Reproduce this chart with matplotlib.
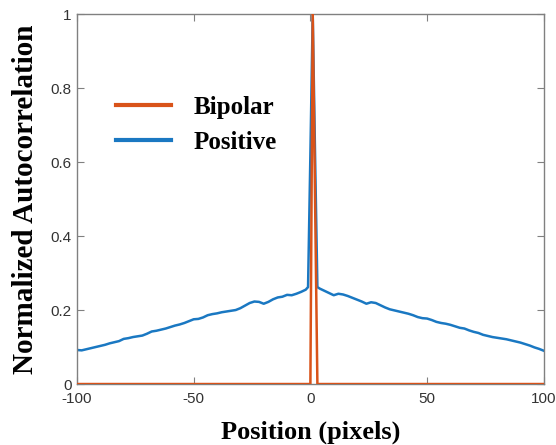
import numpy as np
import matplotlib
matplotlib.use('Agg')
import matplotlib.pyplot as plt

# Bipolar: spike at the centre, zero elsewhere
bipolar_x = [-100, 0, 1, 3, 100]
bipolar_y = [0, 0, 1.0, 0, 0]

# Positive: triangular background + spike
positive_x = [-100, -98, -96, -94, -92, -90, -88, -86, -84, -82, -80, -78, -76, -74, -72,
              -70, -68, -66, -64, -62, -60, -58, -56, -54, -52, -50, -48, -46, -44, -42,
              -40, -38, -36, -34, -32, -30, -28, -26, -24, -22, -20, -18, -16, -14, -12,
              -10, -8, -6, -4, -2, -1, 0, 1, 2, 3, 4, 6, 8, 10, 12, 14, 16, 18, 20, 22,
              24, 26, 28, 30, 32, 34, 36, 38, 40, 42, 44, 46, 48, 50, 52, 54, 56, 58, 60,
              62, 64, 66, 68, 70, 72, 74, 76, 78, 80, 82, 84, 86, 88, 90, 92, 94, 96, 98, 100]
positive_y = [0.092, 0.091, 0.094, 0.097, 0.100, 0.103, 0.106, 0.110, 0.113, 0.116, 0.122,
              0.124, 0.127, 0.129, 0.131, 0.136, 0.142, 0.144, 0.147, 0.150, 0.154, 0.158,
              0.161, 0.165, 0.170, 0.175, 0.176, 0.180, 0.186, 0.189, 0.191, 0.194, 0.196,
              0.198, 0.200, 0.205, 0.212, 0.219, 0.223, 0.222, 0.217, 0.222, 0.229, 0.234,
              0.236, 0.241, 0.240, 0.244, 0.249, 0.255, 0.262, 0.62, 1.0, 0.62, 0.262,
              0.258, 0.252, 0.246, 0.240, 0.244, 0.242, 0.238, 0.233, 0.228, 0.223, 0.217,
              0.221, 0.219, 0.213, 0.207, 0.202, 0.199, 0.196, 0.193, 0.190, 0.186, 0.181,
              0.178, 0.177, 0.173, 0.168, 0.165, 0.163, 0.160, 0.156, 0.152, 0.150, 0.145,
              0.141, 0.138, 0.133, 0.130, 0.127, 0.125, 0.123, 0.121, 0.118, 0.115, 0.112,
              0.108, 0.104, 0.099, 0.095, 0.090]

xticks = [-100, -50, 0, 50, 100]
yticks = [0, 0.2, 0.4, 0.6, 0.8, 1]
yticklabels = ['0', '0.2', '0.4', '0.6', '0.8', '1']

plt.rcParams['font.family'] = ['Liberation Sans', 'DejaVu Sans']

fig = plt.figure(figsize=(5.56, 4.45), dpi=100)
ax = fig.add_axes([0.1385, 0.137, 0.8395, 0.8315])

blue = '#1a78c2'
orange = '#d95319'
l2, = ax.plot(positive_x, positive_y, color=blue, lw=1.8, label='Positive', zorder=2)
l1, = ax.plot(bipolar_x, bipolar_y, color=orange, lw=1.8, label='Bipolar', zorder=3)

ax.set_xlim(-100, 100)
ax.set_ylim(0, 1)
ax.set_xticks(xticks)
ax.set_xticklabels([str(t) for t in xticks])
ax.set_yticks(yticks)
ax.set_yticklabels(yticklabels)
ax.tick_params(direction='in', length=5, width=0.8, colors='#808080', labelcolor='#333333',
               labelsize=11, top=True, right=True)
ax.tick_params(axis='x', pad=6)
ax.tick_params(axis='y', pad=4)
for s in ax.spines.values():
    s.set_color('#808080')
    s.set_linewidth(1.0)

serif = ['Liberation Serif', 'DejaVu Serif']
ax.set_xlabel('Position (pixels)', family=serif, fontweight='bold', fontsize=19, labelpad=10)
ax.set_ylabel('Normalized Autocorrelation', family=serif, fontweight='bold', fontsize=21,
              labelpad=8)

leg = ax.legend(handles=[l1, l2], loc='upper left', bbox_to_anchor=(0.035, 0.84),
                frameon=False, prop={'family': serif, 'weight': 'bold', 'size': 18},
                handlelength=2.2, handletextpad=0.9, labelspacing=0.5)
for h in leg.get_lines():
    h.set_linewidth(3)

fig.savefig('out.png', dpi=100)
